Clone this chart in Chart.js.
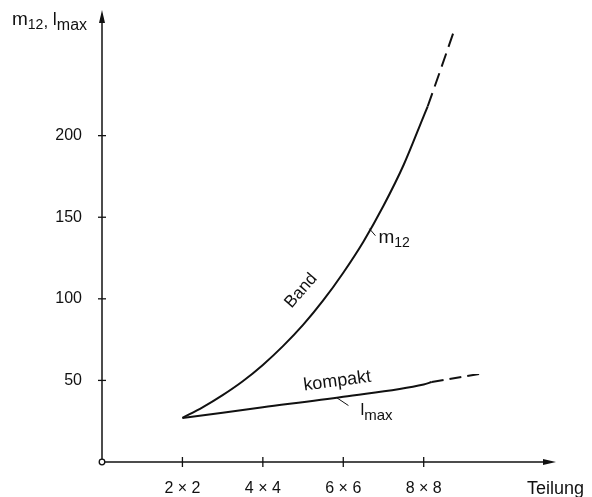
<!DOCTYPE html>
<html><head><meta charset="utf-8">
<script src="https://cdn.jsdelivr.net/npm/chart.js@4/dist/chart.umd.min.js"></script>
<style>html,body{margin:0;padding:0;background:#fff}#wrap{width:592px;height:497px}</style>
</head><body><div id="wrap"><canvas id="c" width="592" height="497"></canvas></div>
<script>
const xTickValues = [2, 4, 6, 8];
const xTickLabels = ['2 × 2', '4 × 4', '6 × 6', '8 × 8'];
const yTickValues = [50, 100, 150, 200];
const bandX = [2, 2.5, 3, 3.5, 4, 4.5, 5, 5.5, 6, 6.5, 7, 7.5, 8, 8.1];
const bandY = [27, 33.5, 41, 49.5, 59.5, 71, 84, 99, 116, 135, 157, 182, 212, 218];
const bandDashX = [8.1, 8.4, 8.75];
const bandDashY = [218, 239, 264];
const lmaxX = [2, 4, 6, 8, 8.2];
const lmaxY = [27, 33.5, 40, 47.5, 49];
const lmaxDashX = [8.2, 9.5];
const lmaxDashY = [49, 54.5];

const pts = (xs, ys) => xs.map((x, i) => ({x, y: ys[i]}));
const FONT = '"Liberation Sans", Arial, sans-serif';
const INK = '#111';

const decor = {
  id: 'decor',
  afterDraw(chart) {
    const {ctx, chartArea: a, scales: {x, y}} = chart;
    ctx.save();
    ctx.strokeStyle = INK; ctx.fillStyle = INK; ctx.lineWidth = 1.5;
    const x0 = x.getPixelForValue(0), y0 = y.getPixelForValue(0);
    ctx.beginPath(); ctx.moveTo(x0, y0); ctx.lineTo(x0, a.top + 8); ctx.stroke();
    ctx.beginPath(); ctx.moveTo(x0, y0); ctx.lineTo(a.right - 8, y0); ctx.stroke();
    ctx.beginPath(); ctx.moveTo(x0, a.top); ctx.lineTo(x0 - 3, a.top + 13); ctx.lineTo(x0 + 3, a.top + 13); ctx.closePath(); ctx.fill();
    ctx.beginPath(); ctx.moveTo(a.right, y0); ctx.lineTo(a.right - 13, y0 - 3); ctx.lineTo(a.right - 13, y0 + 3); ctx.closePath(); ctx.fill();
    ctx.lineWidth = 1.3;
    yTickValues.forEach(v => { const p = y.getPixelForValue(v); ctx.beginPath(); ctx.moveTo(x0 - 4, p); ctx.lineTo(x0 + 4, p); ctx.stroke(); });
    xTickValues.forEach(v => { const p = x.getPixelForValue(v); ctx.beginPath(); ctx.moveTo(p, y0 - 5); ctx.lineTo(p, y0 + 5); ctx.stroke(); });
    ctx.fillStyle = '#fff'; ctx.lineWidth = 1.3;
    ctx.beginPath(); ctx.arc(x0, y0, 2.8, 0, Math.PI * 2); ctx.fill(); ctx.stroke();
    ctx.fillStyle = INK;
    ctx.textBaseline = 'alphabetic'; ctx.textAlign = 'left';
    const sub = (parts, px, py) => {
      let cx = px;
      parts.forEach(([t, size, dy]) => { ctx.font = size + 'px ' + FONT; ctx.fillText(t, cx, py + dy); cx += ctx.measureText(t).width; });
    };
    sub([['m', 19, 0], ['12', 14, 4], [', ', 17, 2], ['l', 18, 0], ['max', 16, 5]], 12, 25);
    ctx.font = '18px ' + FONT; ctx.fillText('Teilung', 527, 494);
    const txt = (t, size, dx, dy, ang) => {
      ctx.save(); ctx.translate(dx, dy); ctx.rotate(ang * Math.PI / 180);
      ctx.font = size + 'px ' + FONT; ctx.textAlign = 'center'; ctx.textBaseline = 'middle';
      ctx.fillText(t, 0, 0); ctx.restore();
    };
    txt('Band', 17, x.getPixelForValue(4.95), y.getPixelForValue(105), -49);
    txt('kompakt', 18, x.getPixelForValue(5.85), y.getPixelForValue(49.5), -7.5);
    const mx = x.getPixelForValue(6.65), my = y.getPixelForValue(143);
    ctx.lineWidth = 1; ctx.beginPath(); ctx.moveTo(mx, my); ctx.lineTo(mx + 6, my + 7); ctx.stroke();
    sub([['m', 19, 0], ['12', 14, 4]], mx + 9, my + 14);
    const lx = x.getPixelForValue(5.83), ly = y.getPixelForValue(39.5);
    ctx.beginPath(); ctx.moveTo(lx, ly); ctx.lineTo(lx + 12, ly + 8); ctx.stroke();
    sub([['l', 17, 0], ['max', 15, 5]], lx + 24, ly + 17);
    ctx.restore();
  }
};

const ds = (data, dash) => ({data, borderColor: INK, borderWidth: 2, pointRadius: 0, fill: false,
  tension: 0.4, cubicInterpolationMode: 'monotone', borderDash: dash || []});

new Chart(document.getElementById('c'), {
  type: 'line',
  data: { datasets: [
    ds(pts(bandX, bandY)),
    ds(pts(bandDashX, bandDashY), [14, 7]),
    ds(pts(lmaxX, lmaxY)),
    ds(pts(lmaxDashX, lmaxDashY), [12, 6])
  ]},
  options: {
    responsive: false, animation: false, devicePixelRatio: 1,
    layout: { padding: { top: 10, right: 36, left: 0, bottom: 0 } },
    plugins: { legend: { display: false }, tooltip: { enabled: false } },
    scales: {
      x: { type: 'linear', min: 0, max: 11.29,
        afterFit: s => { s.height = 35; s.paddingLeft = 0; s.paddingRight = 0; },
        afterBuildTicks: s => { s.ticks = xTickValues.map(v => ({value: v})); },
        grid: { display: false, drawTicks: false }, border: { display: false },
        ticks: { color: INK, font: { family: FONT, size: 16 }, padding: 17, maxRotation: 0, autoSkip: false,
          callback: (v) => xTickLabels[xTickValues.indexOf(v)] } },
      y: { type: 'linear', min: 0, max: 277,
        afterFit: s => { s.width = 102; s.paddingTop = 0; s.paddingBottom = 0; },
        afterBuildTicks: s => { s.ticks = yTickValues.map(v => ({value: v})); },
        grid: { display: false, drawTicks: false }, border: { display: false },
        ticks: { color: INK, font: { family: FONT, size: 16 }, padding: 20, autoSkip: false } }
    }
  },
  plugins: [decor]
});
</script></body></html>
